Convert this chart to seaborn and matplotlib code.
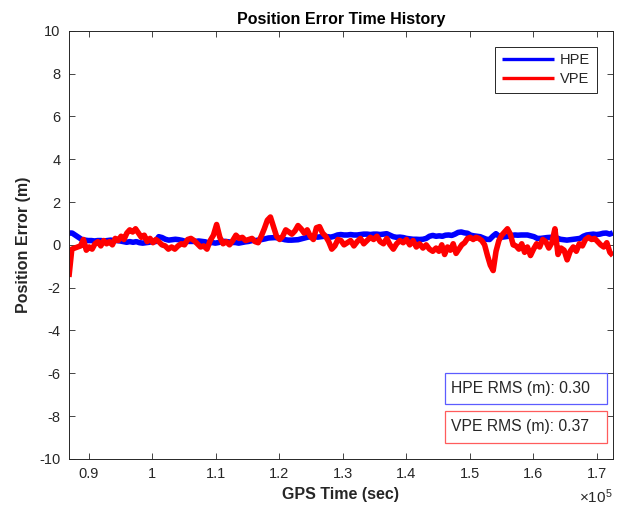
import numpy as np
import pandas as pd
import matplotlib
matplotlib.use("Agg")
import matplotlib.pyplot as plt
from matplotlib.patches import Rectangle
from matplotlib.ticker import FuncFormatter
import seaborn as sns

# ---------------- data ----------------
# segment boundaries of GPS time (sec)
seg_bounds = [86850, 101000, 115700, 130200, 144700, 159100, 172570]

hpe_seg1 = [0.55, 0.55, 0.45, 0.35, 0.25, 0.22, 0.2, 0.2, 0.18, 0.2, 0.2, 0.18, 0.2, 0.22,
            0.2, 0.2, 0.18, 0.15, 0.12, 0.15, 0.12, 0.15, 0.1, 0.08, 0.1, 0.12, 0.15, 0.15]
hpe_seg2 = [0.38, 0.34, 0.26, 0.22, 0.24, 0.26, 0.24, 0.21, 0.16, 0.16, 0.16, 0.16, 0.18, 0.16,
            0.14, 0.08, 0.11, 0.08, 0.11, 0.16, 0.16, 0.14, 0.11, 0.11, 0.08, 0.11, 0.14, 0.16]
hpe_seg3 = [0.2, 0.2, 0.22, 0.25, 0.28, 0.32, 0.33, 0.34, 0.32, 0.28, 0.24, 0.22, 0.22, 0.23,
            0.24, 0.28, 0.32, 0.36, 0.38, 0.38, 0.36, 0.38, 0.4, 0.38, 0.36, 0.4, 0.46, 0.48]
hpe_seg4 = [0.46, 0.46, 0.48, 0.46, 0.46, 0.48, 0.5, 0.5, 0.48, 0.5, 0.5, 0.48, 0.5, 0.52,
            0.45, 0.38, 0.35, 0.36, 0.34, 0.3, 0.28, 0.26, 0.26, 0.25, 0.26, 0.3, 0.4, 0.44]
hpe_seg5 = [0.4, 0.42, 0.4, 0.45, 0.46, 0.44, 0.5, 0.58, 0.6, 0.56, 0.54, 0.45, 0.42, 0.4,
            0.38, 0.32, 0.26, 0.25, 0.4, 0.52, 0.4, 0.36, 0.38, 0.4, 0.44, 0.46, 0.45, 0.46, 0.46]
hpe_seg6 = [0.46, 0.42, 0.38, 0.3, 0.3, 0.32, 0.34, 0.35, 0.34, 0.32, 0.26, 0.24, 0.22, 0.24,
            0.26, 0.28, 0.3, 0.4, 0.46, 0.48, 0.5, 0.48, 0.5, 0.54, 0.55, 0.5, 0.56]

vpe_seg1 = [-1.5, -0.2, -0.15, -0.1, -0.05, 0.25, -0.25, -0.1, -0.2, 0.05, 0.15, -0.05, 0.2,
            0.05, 0.15, 0.0, 0.3, 0.2, 0.4, 0.25, 0.55, 0.7, 0.6, 0.75, 0.55, 0.35, 0.45, 0.15,
            0.3, 0.1, 0.25]
vpe_seg2 = [0.15, 0.0, -0.05, -0.2, -0.1, -0.2, -0.05, 0.05, 0.0, 0.25, 0.3, 0.2, 0.05, -0.1,
            -0.05, -0.2, 0.2, 0.45, 0.95, 0.35, 0.05, 0.15, 0.0, 0.2, 0.45, 0.3, 0.35, 0.2, 0.25]
vpe_seg3 = [0.3, 0.15, 0.1, 0.4, 0.75, 1.15, 1.3, 0.85, 0.4, 0.25, 0.4, 0.7, 0.6, 0.5, 0.65,
            0.9, 0.75, 0.55, 0.7, 0.4, 0.25, 0.8, 0.85, 0.55, 0.4, 0.15, -0.2, -0.05, 0.25, 0.2]
vpe_seg4 = [0.0, 0.1, 0.2, -0.05, 0.15, 0.3, 0.05, 0.2, 0.35, 0.25, 0.4, 0.15, 0.05, 0.3, 0.0,
            -0.2, 0.05, 0.2, 0.1, 0.25, 0.0, 0.2, -0.1, 0.05, -0.15, 0.0, -0.2, -0.3]
vpe_seg5 = [-0.15, -0.3, 0.0, -0.45, -0.1, -0.25, 0.05, -0.4, -0.2, 0.0, 0.1, 0.3, 0.35, 0.25,
            0.35, 0.3, 0.2, 0.0, -0.5, -0.95, -1.2, -0.3, 0.2, 0.45, 0.6, 0.75, 0.5, 0.0, -0.05,
            -0.2, 0.05, -0.35]
vpe_seg6 = [-0.1, -0.5, -0.2, 0.05, -0.1, 0.25, 0.15, -0.15, 0.1, 0.75, -0.45, -0.15, -0.25,
            -0.7, -0.3, -0.1, -0.3, 0.05, -0.05, 0.25, 0.35, 0.25, 0.3, 0.15, 0.0, -0.1, 0.1,
            -0.35, -0.5]

series_names = ["HPE", "VPE"]
rms_values = [0.30, 0.37]
x_ticks = [90000, 100000, 110000, 120000, 130000, 140000, 150000, 160000, 170000]
y_ticks = [-10, -8, -6, -4, -2, 0, 2, 4, 6, 8, 10]


def build(segs):
    ts, vs = [], []
    for i, seg in enumerate(segs):
        last = i == len(segs) - 1
        ts.append(np.linspace(seg_bounds[i], seg_bounds[i + 1], len(seg), endpoint=last))
        vs.append(np.asarray(seg, dtype=float))
    return np.concatenate(ts), np.concatenate(vs)


t_h, v_h = build([hpe_seg1, hpe_seg2, hpe_seg3, hpe_seg4, hpe_seg5, hpe_seg6])
t_v, v_v = build([vpe_seg1, vpe_seg2, vpe_seg3, vpe_seg4, vpe_seg5, vpe_seg6])

df = pd.concat([
    pd.DataFrame({"t": t_h, "err": v_h, "series": "HPE"}),
    pd.DataFrame({"t": t_v, "err": v_v, "series": "VPE"}),
], ignore_index=True)

# ---------------- style ----------------
sns.set_style("ticks")
plt.rcParams["font.family"] = ["Liberation Sans", "DejaVu Sans"]
plt.rcParams["axes.unicode_minus"] = False
plt.rcParams["mathtext.fontset"] = "custom"
plt.rcParams["mathtext.rm"] = "Liberation Sans"
plt.rcParams["mathtext.default"] = "regular"

dark = "#262626"
fig = plt.figure(figsize=(6.21, 5.16), dpi=100)
ax = fig.add_axes([0.111, 0.1105, 0.876, 0.830])

sns.lineplot(data=df, x="t", y="err", hue="series", hue_order=series_names,
             palette={"HPE": "#0000ff", "VPE": "#ff0000"}, estimator=None, sort=False,
             linewidth=4.0, ax=ax, legend=True)
for ln in ax.get_lines():
    ln.set_solid_joinstyle("round")
    ln.set_solid_capstyle("butt")

ax.set_xlim(seg_bounds[0], seg_bounds[-1])
ax.set_ylim(-10, 10)
ax.set_xticks(x_ticks)
ax.set_yticks(y_ticks)
ax.xaxis.set_major_formatter(FuncFormatter(lambda v, p: f"{v / 1e5:g}"))
ax.tick_params(direction="in", top=True, right=True, length=4, width=0.6,
               colors=dark, labelsize=10.5, pad=6)
for sp in ax.spines.values():
    sp.set_visible(True)
    sp.set_color(dark)
    sp.set_linewidth(0.7)

ax.set_title("Position Error Time History", fontweight="bold", fontsize=11.5,
             color="black", pad=5)
ax.set_xlabel("GPS Time (sec)", fontweight="bold", fontsize=11.5, color=dark, labelpad=4)
ax.set_ylabel("Position Error (m)", fontweight="bold", fontsize=11.5, color=dark, labelpad=6)

handles, labels = ax.get_legend_handles_labels()
leg = ax.legend(handles, labels, loc="upper right", fancybox=False, framealpha=1,
                edgecolor=dark, fontsize=10.5, handlelength=3.6, borderaxespad=1.1,
                handletextpad=0.4, borderpad=0.45, labelspacing=0.35)
leg.get_frame().set_linewidth(0.7)
for ln in leg.get_lines():
    ln.set_linewidth(2.4)

# offset text for x-axis
fig.text(0.987, 1 - 497 / 516, r"$\times10^{5}$", ha="right", va="center",
         fontsize=11, color=dark)

# RMS text boxes
box_specs = [
    (series_names[0], rms_values[0], "#5c5cff", 1 - 404.3 / 516, 31.6 / 516),
    (series_names[1], rms_values[1], "#ff5c5c", 1 - 443.3 / 516, 32.6 / 516),
]
for name, rms, ec, y0, h in box_specs:
    fig.patches.append(Rectangle((445 / 621, y0), 162 / 621, h, transform=fig.transFigure,
                                 facecolor="white", edgecolor=ec, linewidth=0.9,
                                 zorder=5))
    fig.text(451 / 621, y0 + h / 2, f"{name} RMS (m): {rms:.2f}", ha="left",
             va="center", fontsize=11.3, color=dark, zorder=6)

fig.savefig("out.png", dpi=100)
